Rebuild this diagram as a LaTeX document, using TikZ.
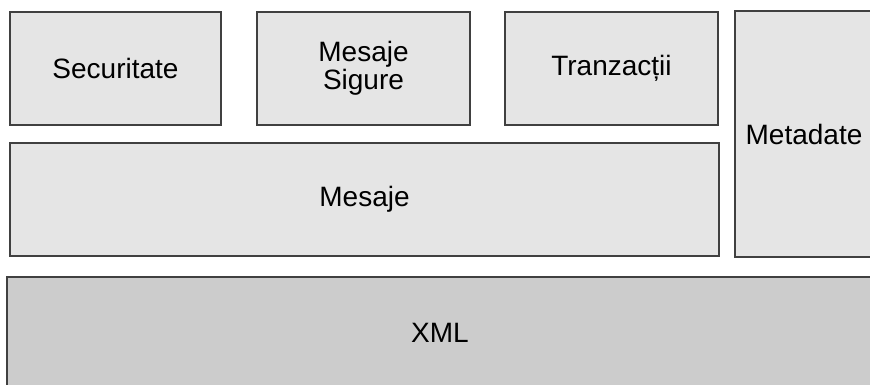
\documentclass[tikz,border=0pt]{standalone}
\usepackage{fontspec}
\setmainfont{Liberation Sans}
\usepackage{tikz}
\usetikzlibrary{positioning}
\definecolor{layerfill}{HTML}{E5E5E5}
\definecolor{basefill}{HTML}{CCCCCC}
\definecolor{layerline}{HTML}{404040}
\def\px{0.75pt}

\begin{document}
\begin{tikzpicture}[x=0.75pt,y=-0.75pt]
    \tikzstyle{layer}=[rectangle,draw=layerline,line width=1pt,fill=layerfill,
      inner sep=0pt,outer sep=0pt,align=center,font=\fontsize{21}{21}\selectfont]
    \tikzstyle{base}=[layer,fill=basefill]
    \useasboundingbox (0,0) rectangle (870,385);
    \begin{scope}
      % top row
      \node[layer,minimum width=211*\px,minimum height=113*\px] (secur) at (115.5,68.5) {Securitate};
      \node[layer,minimum width=213*\px,minimum height=113*\px] (sigure) at (363.5,68.5) {Mesaje\\Sigure};
      \node[layer,minimum width=213*\px,minimum height=113*\px] (tranz) at (611.5,68.5) {Tranzacții};
      % middle
      \node[layer,minimum width=709*\px,minimum height=113*\px] (mesaje) at (364.5,199.5) {Mesaje};
      \node[layer,minimum width=138*\px,minimum height=246*\px] (meta) at (804,134) {Metadate};
      % bottom
      \node[base,minimum width=866*\px,minimum height=112*\px] (xml) at (440,333) {XML};
    \end{scope}
\end{tikzpicture}
\end{document}
